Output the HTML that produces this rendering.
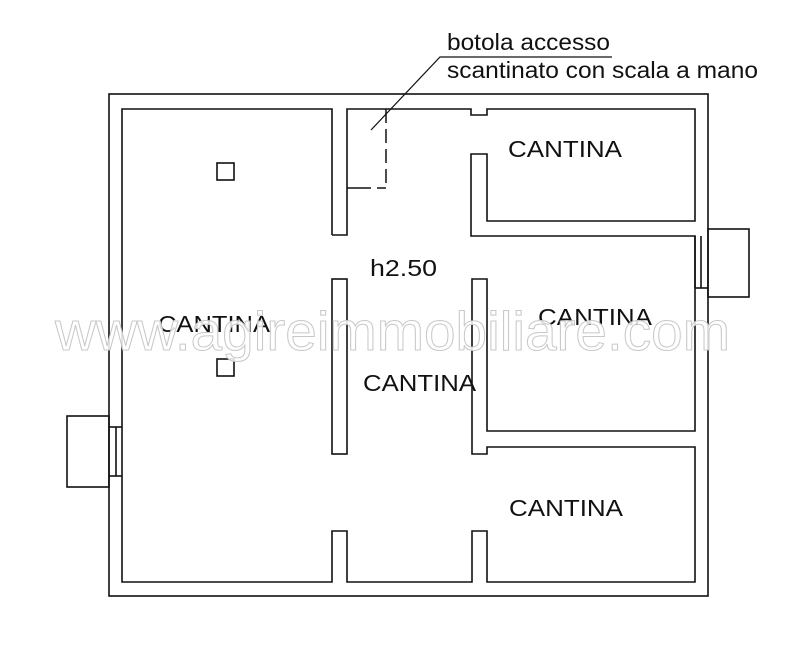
<!DOCTYPE html>
<html><head><meta charset="utf-8"><style>
html,body{margin:0;padding:0;background:#fff;}
svg{display:block;}
text{font-family:"Liberation Sans",Arial,sans-serif;}
</style></head><body>
<svg width="787" height="663" viewBox="0 0 787 663" xmlns="http://www.w3.org/2000/svg">
<g fill="none" stroke="#111" stroke-width="1.6">
<rect x="109" y="94" width="599" height="502"/>
<polyline points="332,235 332,109 122,109 122,582 332,582 332,531 347,531 347,582 472,582 472,531 487,531 487,582 695,582 695,447 487,447 487,454 472,454 472,279 487,279 487,431 695,431 695,236 471,236 471,154 487,154 487,221 695,221 695,109 487,109 487,115 471,115 471,109 347,109 347,235 332,235"/>
<rect x="332" y="279" width="15" height="175"/>
<rect x="708" y="229" width="41" height="68"/>
<line x1="695" y1="236" x2="695" y2="288"/>
<line x1="701" y1="236" x2="701" y2="288"/>
<line x1="695" y1="288" x2="708" y2="288"/>
<rect x="67" y="416" width="42" height="71"/>
<line x1="116" y1="427" x2="116" y2="476"/>
<line x1="109" y1="427" x2="122" y2="427"/>
<line x1="109" y1="476" x2="122" y2="476"/>
<rect x="217" y="163" width="17" height="17"/>
<rect x="217" y="359" width="17" height="17"/>
</g>
<g stroke="#111" stroke-width="1.5" fill="none">
<line x1="386" y1="109" x2="386" y2="188" stroke-dasharray="14,6"/>
<line x1="347" y1="188" x2="386" y2="188" stroke-dasharray="24,6"/>
<polyline points="371,130 440,57 612,57" stroke-width="1.2"/>
</g>
<g fill="#111" font-size="23" lengthAdjust="spacingAndGlyphs">
<text x="447" y="50" textLength="163" lengthAdjust="spacingAndGlyphs">botola accesso</text>
<text x="447" y="78" textLength="311" lengthAdjust="spacingAndGlyphs">scantinato con scala a mano</text>
<text x="508" y="157" textLength="114" lengthAdjust="spacingAndGlyphs">CANTINA</text>
<text x="370" y="276" textLength="67" lengthAdjust="spacingAndGlyphs">h2.50</text>
<text x="158" y="332" textLength="112" lengthAdjust="spacingAndGlyphs">CANTINA</text>
<text x="538" y="325" textLength="114" lengthAdjust="spacingAndGlyphs">CANTINA</text>
<text x="363" y="391" textLength="113" lengthAdjust="spacingAndGlyphs">CANTINA</text>
<text x="509" y="516" textLength="114" lengthAdjust="spacingAndGlyphs">CANTINA</text>
</g>
<text x="55" y="350" font-size="55" textLength="675" lengthAdjust="spacingAndGlyphs" fill="#fff" fill-opacity="0.85" stroke="#c8c8c8" stroke-width="1">www.agireimmobiliare.com</text>
</svg>
</body></html>
